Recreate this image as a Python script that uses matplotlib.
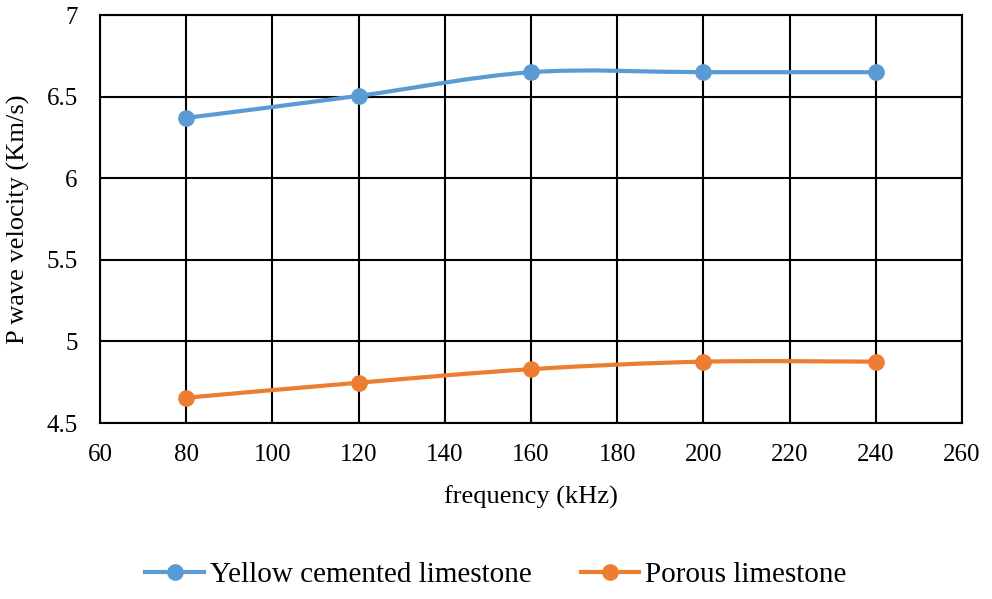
import matplotlib
matplotlib.use("Agg")
import matplotlib.pyplot as plt
from matplotlib.path import Path
from matplotlib.patches import PathPatch
from matplotlib.lines import Line2D

plt.rcParams["font.family"] = ["Liberation Serif", "DejaVu Serif"]

frequency = [80, 120, 160, 200, 240]
yellow_cemented = [6.37, 6.505, 6.65, 6.65, 6.65]
porous = [4.655, 4.747, 4.83, 4.876, 4.876]

x_ticks = [60, 80, 100, 120, 140, 160, 180, 200, 220, 240, 260]
y_ticks = [4.5, 5, 5.5, 6, 6.5, 7]

BLUE = "#5B9BD5"
ORANGE = "#ED7D31"


def smooth_path(xs, ys):
    # Excel-style smoothed line: cubic Bezier segments through the data points
    verts = [(xs[0], ys[0])]
    codes = [Path.MOVETO]
    n = len(xs)
    for i in range(n - 1):
        x0, y0 = (xs[i - 1], ys[i - 1]) if i > 0 else (xs[i], ys[i])
        x1, y1 = xs[i], ys[i]
        x2, y2 = xs[i + 1], ys[i + 1]
        x3, y3 = (xs[i + 2], ys[i + 2]) if i + 2 < n else (x2, y2)
        c1 = (x1 + (x2 - x0) / 6, y1 + (y2 - y0) / 6)
        c2 = (x2 - (x3 - x1) / 6, y2 - (y3 - y1) / 6)
        verts += [c1, c2, (x2, y2)]
        codes += [Path.CURVE4] * 3
    return Path(verts, codes)


fig = plt.figure(figsize=(9.92, 5.99), dpi=100)
ax = fig.add_axes([0.1008, 0.2938, 0.869, 0.681])

for ys, color in [(yellow_cemented, BLUE), (porous, ORANGE)]:
    ax.add_patch(PathPatch(smooth_path(frequency, ys), facecolor="none",
                           edgecolor=color, lw=3, zorder=3, capstyle="round"))
    ax.plot(frequency, ys, linestyle="none", marker="o", markersize=11,
            color=color, zorder=4)

ax.set_xlim(60, 260)
ax.set_ylim(4.5, 7)
ax.set_xticks(x_ticks)
ax.set_yticks(y_ticks)
ax.set_yticklabels(["4.5", "5", "5.5", "6", "6.5", "7"])
ax.grid(True, color="black", lw=1.5)
ax.set_axisbelow(True)
for s in ax.spines.values():
    s.set_color("black")
    s.set_linewidth(1.5)
ax.tick_params(length=0, labelsize=18)
ax.tick_params(axis="x", pad=15)
ax.tick_params(axis="y", pad=16)

ax.set_xlabel("frequency (kHz)", fontsize=19, labelpad=14)
ax.set_ylabel("P wave velocity (Km/s)", fontsize=19, labelpad=12)

handles = [
    Line2D([], [], color=BLUE, lw=3, marker="o", markersize=11),
    Line2D([], [], color=ORANGE, lw=3, marker="o", markersize=11),
]
fig.legend(handles, ["Yellow cemented limestone", "Porous limestone"],
           loc="center", bbox_to_anchor=(0.5, 0.04), ncol=2, frameon=False,
           fontsize=21, handlelength=2.0, columnspacing=1.7, handletextpad=0.2)

fig.savefig("out.png", dpi=100)
